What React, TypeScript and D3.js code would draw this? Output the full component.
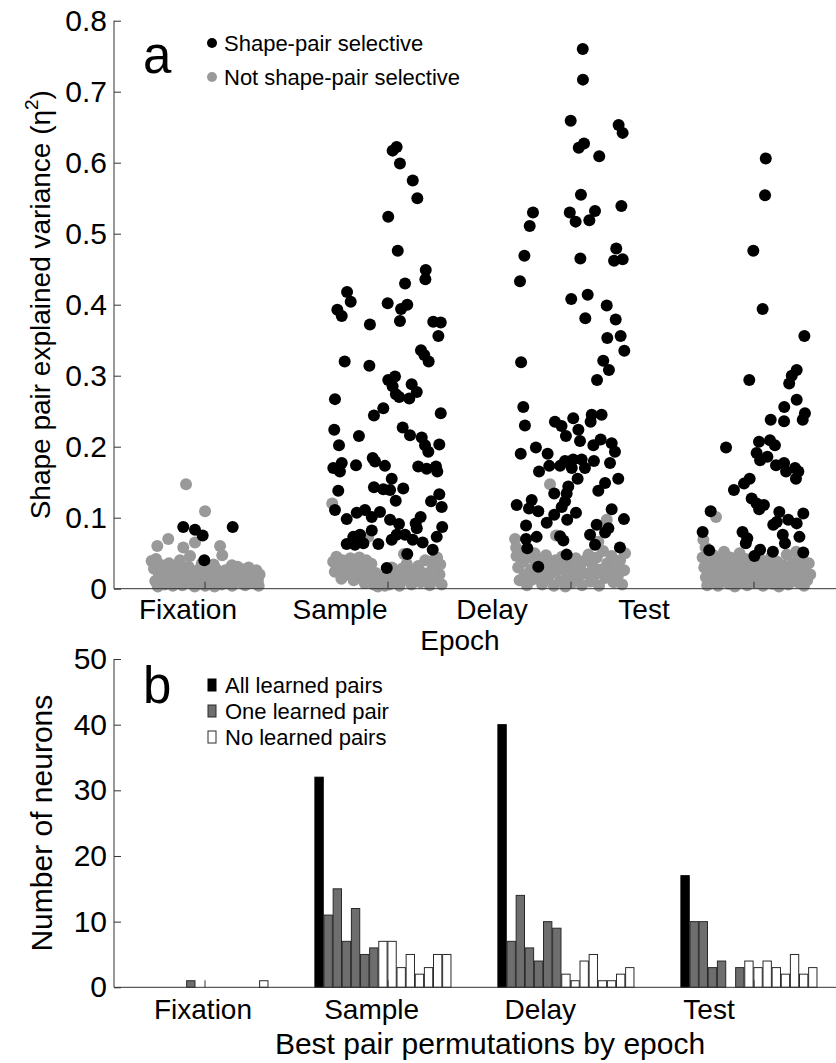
import React, { useRef, useEffect } from 'react';
import * as d3 from 'd3';

const epochs = ['Fixation', 'Sample', 'Delay', 'Test'];
const etaTicks = [0, 0.1, 0.2, 0.3, 0.4, 0.5, 0.6, 0.7, 0.8];
const countTicks = [0, 10, 20, 30, 40, 50];

// panel a: [x position on epoch axis, eta^2]
const fixSel = [[0.884, 0.087], [0.948, 0.083], [0.99, 0.075], [0.999, 0.04], [1.154, 0.087]];
const fixNon = [
  [0.899, 0.147], [1.003, 0.109], [0.742, 0.06], [0.802, 0.07], [0.884, 0.058], [0.948, 0.065], [1.085, 0.06],
  [1.097, 0.047], [0.921, 0.046], [0.711, 0.039], [0.866, 0.04], [0.724, 0.028], [0.731, 0.011], [0.745, 0.003],
  [0.752, 0.02], [0.768, 0.033], [0.774, 0.015], [0.783, 0.006], [0.795, 0.026], [0.806, 0.036], [0.812, 0.013],
  [0.827, 0.004], [0.833, 0.021], [0.841, 0.03], [0.855, 0.009], [0.861, 0.018], [0.873, 0.027], [0.879, 0.005],
  [0.892, 0.014], [0.904, 0.024], [0.913, 0.031], [0.925, 0.008], [0.931, 0.019], [0.946, 0.003], [0.952, 0.012],
  [0.963, 0.026], [0.975, 0.007], [0.984, 0.016], [0.996, 0.022], [1.004, 0.004], [1.012, 0.013], [1.026, 0.025],
  [1.033, 0.009], [1.041, 0.018], [1.055, 0.003], [1.062, 0.028], [1.071, 0.011], [1.083, 0.02], [1.094, 0.006],
  [1.102, 0.015], [1.114, 0.026], [1.121, 0.008], [1.133, 0.019], [1.142, 0.029], [1.151, 0.004], [1.163, 0.013],
  [1.172, 0.023], [1.181, 0.031], [1.194, 0.009], [1.203, 0.017], [1.211, 0.027], [1.222, 0.005], [1.234, 0.014],
  [1.241, 0.03], [1.253, 0.021], [1.262, 0.008], [1.271, 0.018], [1.283, 0.026], [1.292, 0.012], [1.301, 0.02],
  [1.296, 0.004], [1.15, 0.033], [1.05, 0.034], [0.985, 0.035], [0.735, 0.042],
];

const sampleSel = [
  [2.028, 0.617], [2.05, 0.622], [2.068, 0.599], [2.138, 0.575], [2.163, 0.55], [2.004, 0.524], [2.056, 0.476],
  [2.209, 0.449], [2.207, 0.436], [2.096, 0.43], [1.779, 0.418], [1.799, 0.404], [2.001, 0.402], [2.108, 0.4],
  [2.074, 0.394], [1.726, 0.393], [1.75, 0.384], [1.904, 0.372], [2.068, 0.377], [2.25, 0.376], [2.291, 0.375],
  [2.278, 0.356], [2.183, 0.336], [2.201, 0.329], [2.225, 0.32], [1.766, 0.32], [1.901, 0.314], [2.004, 0.294],
  [2.041, 0.299], [2.028, 0.285], [2.046, 0.274], [2.132, 0.288], [2.16, 0.277], [2.119, 0.268], [2.064, 0.27],
  [1.713, 0.267], [1.977, 0.254], [1.926, 0.244], [2.291, 0.247], [1.709, 0.224], [1.844, 0.215], [2.083, 0.227],
  [2.123, 0.216], [2.187, 0.213], [2.205, 0.202], [2.223, 0.193], [2.283, 0.203], [1.735, 0.202], [1.704, 0.17],
  [1.75, 0.177], [1.74, 0.165], [1.828, 0.174], [1.919, 0.184], [1.932, 0.179], [1.986, 0.173], [2.168, 0.172],
  [2.214, 0.169], [2.265, 0.172], [2.272, 0.165], [2.023, 0.155], [1.731, 0.138], [1.926, 0.143], [1.977, 0.14],
  [2.014, 0.139], [2.086, 0.141], [2.045, 0.124], [2.283, 0.133], [2.238, 0.123], [2.296, 0.115], [1.713, 0.111],
  [1.777, 0.098], [1.832, 0.107], [1.877, 0.111], [1.914, 0.101], [1.959, 0.108], [2.014, 0.097], [2.063, 0.091],
  [2.154, 0.092], [2.181, 0.101], [2.16, 0.085], [2.299, 0.087], [1.914, 0.082], [1.813, 0.073], [1.85, 0.076],
  [1.777, 0.063], [1.822, 0.062], [1.868, 0.064], [1.95, 0.063], [2.023, 0.069], [2.05, 0.076], [2.096, 0.076],
  [2.138, 0.069], [2.192, 0.065], [2.269, 0.073], [2.247, 0.055], [2.108, 0.049], [1.996, 0.029],
];
const sampleNon = [
  [1.698, 0.12], [2.09, 0.049], [1.895, 0.073], [2.252, 0.04], [1.703, 0.038], [1.712, 0.024], [1.721, 0.045],
  [1.735, 0.031], [1.748, 0.014], [1.754, 0.04], [1.766, 0.027], [1.779, 0.036], [1.788, 0.02], [1.797, 0.043],
  [1.808, 0.03], [1.815, 0.012], [1.826, 0.038], [1.838, 0.025], [1.846, 0.044], [1.857, 0.018], [1.863, 0.033],
  [1.875, 0.008], [1.884, 0.04], [1.893, 0.026], [1.905, 0.014], [1.912, 0.035], [1.924, 0.006], [1.936, 0.022],
  [1.947, 0.003], [1.958, 0.016], [1.972, 0.01], [1.985, 0.004], [1.996, 0.017], [2.011, 0.006], [2.024, 0.03],
  [2.038, 0.012], [2.052, 0.021], [2.066, 0.004], [2.079, 0.028], [2.093, 0.013], [2.105, 0.035], [2.118, 0.02],
  [2.131, 0.006], [2.143, 0.026], [2.156, 0.014], [2.168, 0.032], [2.181, 0.009], [2.194, 0.022], [2.206, 0.04],
  [2.219, 0.016], [2.231, 0.005], [2.245, 0.028], [2.258, 0.012], [2.271, 0.044], [2.284, 0.02], [2.296, 0.006],
  [2.288, 0.034],
];

const delaySel = [
  [3.067, 0.76], [3.068, 0.717], [3.001, 0.659], [3.263, 0.653], [3.285, 0.642], [3.074, 0.627], [3.045, 0.621],
  [3.157, 0.609], [3.057, 0.555], [3.278, 0.539], [2.795, 0.53], [2.777, 0.511], [2.996, 0.53], [3.134, 0.532],
  [3.028, 0.517], [3.103, 0.519], [2.748, 0.469], [2.724, 0.433], [3.054, 0.465], [3.25, 0.479], [3.238, 0.462],
  [3.285, 0.464], [3.004, 0.408], [3.094, 0.414], [3.198, 0.399], [3.081, 0.381], [3.247, 0.379], [3.201, 0.353],
  [3.274, 0.356], [3.294, 0.335], [3.179, 0.321], [3.21, 0.308], [3.145, 0.294], [2.73, 0.319], [2.742, 0.256],
  [2.751, 0.23], [2.728, 0.19], [2.811, 0.199], [2.875, 0.19], [2.915, 0.235], [2.951, 0.229], [3.015, 0.24],
  [3.043, 0.224], [2.975, 0.215], [3.052, 0.208], [3.116, 0.245], [3.11, 0.235], [3.17, 0.245], [3.125, 0.202],
  [3.165, 0.21], [3.225, 0.205], [3.243, 0.193], [3.216, 0.177], [3.128, 0.18], [2.828, 0.165], [2.884, 0.173],
  [2.943, 0.173], [2.97, 0.18], [3.015, 0.182], [3.061, 0.182], [3.007, 0.17], [3.079, 0.17], [3.039, 0.155],
  [3.261, 0.155], [3.189, 0.149], [3.152, 0.138], [2.988, 0.144], [2.979, 0.134], [2.911, 0.134], [2.97, 0.123],
  [2.706, 0.118], [2.788, 0.125], [2.773, 0.113], [2.824, 0.109], [2.952, 0.115], [3.03, 0.107], [2.911, 0.104],
  [2.87, 0.093], [2.982, 0.097], [3.225, 0.112], [3.292, 0.098], [3.143, 0.09], [3.207, 0.085], [3.189, 0.079],
  [2.757, 0.089], [3.107, 0.076], [2.815, 0.073], [2.757, 0.07], [2.943, 0.074], [2.961, 0.068], [2.764, 0.057],
  [3.134, 0.062], [3.27, 0.058], [2.979, 0.048], [2.824, 0.031],
];
const delayNon = [
  [2.888, 0.147], [3.198, 0.097], [3.152, 0.066], [2.697, 0.07], [2.921, 0.075], [2.703, 0.058], [2.705, 0.046],
  [2.714, 0.03], [2.722, 0.012], [2.733, 0.052], [2.741, 0.038], [2.75, 0.02], [2.762, 0.005], [2.771, 0.044],
  [2.783, 0.027], [2.792, 0.013], [2.804, 0.05], [2.812, 0.036], [2.825, 0.018], [2.836, 0.041], [2.845, 0.006],
  [2.858, 0.029], [2.866, 0.047], [2.877, 0.015], [2.889, 0.035], [2.897, 0.022], [2.909, 0.004], [2.918, 0.04],
  [2.93, 0.026], [2.942, 0.011], [2.953, 0.045], [2.961, 0.031], [2.972, 0.003], [2.984, 0.018], [2.995, 0.037],
  [3.006, 0.008], [3.018, 0.025], [3.029, 0.043], [3.04, 0.014], [3.052, 0.03], [3.063, 0.005], [3.075, 0.039],
  [3.086, 0.021], [3.098, 0.048], [3.109, 0.01], [3.121, 0.033], [3.132, 0.019], [3.144, 0.044], [3.156, 0.004],
  [3.167, 0.027], [3.178, 0.053], [3.19, 0.015], [3.201, 0.036], [3.213, 0.024], [3.224, 0.046], [3.236, 0.009],
  [3.248, 0.031], [3.259, 0.018], [3.271, 0.04], [3.282, 0.006], [3.293, 0.026], [3.298, 0.05],
];

const testSel = [
  [4.067, 0.606], [4.063, 0.554], [3.999, 0.476], [4.05, 0.394], [4.278, 0.356], [4.236, 0.308], [4.209, 0.3],
  [3.977, 0.294], [4.195, 0.289], [4.236, 0.266], [4.168, 0.256], [4.281, 0.247], [4.269, 0.238], [4.094, 0.238],
  [4.167, 0.236], [3.85, 0.199], [4.03, 0.207], [4.09, 0.209], [4.117, 0.202], [4.017, 0.191], [4.036, 0.181],
  [4.076, 0.186], [4.123, 0.174], [4.167, 0.177], [4.178, 0.165], [4.227, 0.17], [4.232, 0.155], [4.245, 0.165],
  [3.979, 0.155], [3.948, 0.148], [3.893, 0.139], [3.99, 0.127], [4.017, 0.12], [4.057, 0.118], [4.031, 0.112],
  [4.108, 0.09], [4.141, 0.108], [4.127, 0.094], [4.19, 0.097], [4.272, 0.106], [4.236, 0.092], [3.766, 0.109],
  [3.722, 0.08], [3.94, 0.08], [3.958, 0.064], [4.036, 0.055], [4.005, 0.046], [4.106, 0.052], [4.16, 0.076],
  [4.172, 0.064], [4.251, 0.073], [4.272, 0.051], [3.758, 0.054], [3.966, 0.071],
];
const testNon = [
  [3.795, 0.101], [3.726, 0.069], [3.738, 0.058], [3.722, 0.044], [3.731, 0.03], [3.74, 0.016], [3.747, 0.005],
  [3.756, 0.038], [3.764, 0.023], [3.772, 0.01], [3.781, 0.047], [3.789, 0.032], [3.797, 0.018], [3.806, 0.004],
  [3.814, 0.04], [3.822, 0.026], [3.831, 0.012], [3.839, 0.052], [3.848, 0.035], [3.856, 0.02], [3.865, 0.007],
  [3.873, 0.044], [3.882, 0.028], [3.89, 0.014], [3.898, 0.003], [3.907, 0.037], [3.915, 0.022], [3.924, 0.05],
  [3.932, 0.009], [3.941, 0.031], [3.949, 0.017], [3.958, 0.042], [3.966, 0.005], [3.975, 0.026], [3.983, 0.013],
  [3.992, 0.036], [4.001, 0.021], [4.01, 0.046], [4.018, 0.008], [4.027, 0.03], [4.035, 0.016], [4.044, 0.04],
  [4.052, 0.004], [4.061, 0.025], [4.07, 0.012], [4.078, 0.034], [4.087, 0.02], [4.095, 0.044], [4.104, 0.007],
  [4.113, 0.029], [4.121, 0.015], [4.13, 0.038], [4.139, 0.003], [4.147, 0.023], [4.156, 0.01], [4.164, 0.033],
  [4.173, 0.019], [4.182, 0.048], [4.19, 0.006], [4.199, 0.027], [4.207, 0.014], [4.216, 0.037], [4.225, 0.022],
  [4.233, 0.052], [4.242, 0.009], [4.25, 0.031], [4.259, 0.017], [4.268, 0.043], [4.276, 0.004], [4.285, 0.025],
  [4.293, 0.012], [4.302, 0.036], [4.31, 0.02],
];

// panel b: neuron counts per best-pair permutation
const allLearned = [0, 32, 40, 17];
const oneLearned = [
  [0, 0, 0, 0, 0, 1],
  [11, 15, 7, 12, 5, 6],
  [7, 14, 6, 4, 10, 9],
  [10, 10, 3, 4, 0, 3],
];
const noLearned = [
  [0, 0, 0, 0, 0, 0, 0, 1],
  [7, 7, 3, 5, 2, 3, 5, 5],
  [2, 1, 4, 5, 1, 1, 2, 3],
  [4, 3, 4, 3, 2, 5, 2, 3],
];

const FONT = "'Liberation Sans', Arial, Helvetica, sans-serif";
const GRAY_DOT = '#999999';
const GRAY_BAR = '#6e6e6e';
const AXIS = '#333';

const App = () => {
  const ref = useRef<SVGSVGElement>(null);

  useEffect(() => {
    const svg = d3.select(ref.current);
    svg.selectAll('*').remove();
    svg.attr('font-family', FONT);

    const x = d3.scaleLinear().domain([0.5, 4.5]).range([113, 845]);
    // the exported figure places the category labels left of their ticks
    const labelXA = d3.scaleLinear().domain([1, 4]).range([188, 644]);
    const labelXB = d3.scaleLinear().domain([1, 4]).range([203, 709]);
    const yA = d3.scaleLinear().domain([0, 0.8]).range([588.7, 20.7]);
    const yB = d3.scaleLinear().domain([0, 50]).range([987.3, 659]);
    const axisX = 114;

    const styleAxis = (g) => {
      g.select('.domain').remove();
      g.selectAll('line').attr('stroke', AXIS);
      g.selectAll('text').attr('fill', '#000').attr('font-family', FONT);
    };

    const xTicks = (g, y0, labelX, baseline) => {
      g.append('g')
        .attr('transform', `translate(0,${y0})`)
        .call(d3.axisBottom(x).tickValues([1, 2, 3, 4]).tickFormat(() => '').tickSizeInner(-7).tickSizeOuter(0))
        .call(styleAxis);
      g.append('g')
        .selectAll('text')
        .data(epochs)
        .join('text')
        .attr('x', (d, i) => labelX(i + 1))
        .attr('y', baseline)
        .attr('text-anchor', 'middle')
        .attr('font-size', 28)
        .text((d) => d);
    };

    // ---------- panel a ----------
    const gA = svg.append('g');
    const nonAll = [...fixNon, ...sampleNon, ...delayNon, ...testNon];
    const selAll = [...fixSel, ...sampleSel, ...delaySel, ...testSel];

    gA.append('g')
      .selectAll('circle')
      .data(nonAll)
      .join('circle')
      .attr('cx', (d) => x(d[0]))
      .attr('cy', (d) => yA(d[1]))
      .attr('r', 6)
      .attr('fill', GRAY_DOT);

    gA.append('g')
      .selectAll('circle')
      .data(selAll)
      .join('circle')
      .attr('cx', (d) => x(d[0]))
      .attr('cy', (d) => yA(d[1]))
      .attr('r', 6)
      .attr('fill', '#000');

    gA.append('g')
      .attr('transform', `translate(${axisX},0)`)
      .call(
        d3.axisLeft(yA)
          .tickValues(etaTicks)
          .tickFormat((d) => (d === 0 ? '0' : d3.format('.1f')(d)))
          .tickSizeInner(-7)
          .tickSizeOuter(0)
          .tickPadding(7)
      )
      .call(styleAxis)
      .attr('font-size', 30);

    xTicks(gA, yA(0), labelXA, 619);

    gA.append('line')
      .attr('x1', axisX).attr('x2', axisX)
      .attr('y1', yA(0.8)).attr('y2', yA(0))
      .attr('stroke', AXIS);
    gA.append('line')
      .attr('x1', axisX).attr('x2', 845)
      .attr('y1', yA(0)).attr('y2', yA(0))
      .attr('stroke', AXIS);

    gA.append('text')
      .attr('x', 460).attr('y', 650)
      .attr('text-anchor', 'middle')
      .attr('font-size', 28)
      .text('Epoch');

    const yTitleA = gA.append('text')
      .attr('transform', `translate(50,${(yA(0) + yA(0.8)) / 2}) rotate(-90)`)
      .attr('text-anchor', 'middle')
      .attr('font-size', 28);
    yTitleA.append('tspan').text('Shape pair explained variance (η');
    yTitleA.append('tspan').attr('font-size', 19).attr('dy', -12).text('2');
    yTitleA.append('tspan').attr('dy', 12).text(')');

    gA.append('text')
      .attr('x', 143).attr('y', 73)
      .attr('font-size', 51)
      .text('a');

    const legA = [
      { label: 'Shape-pair selective', color: '#000' },
      { label: 'Not shape-pair selective', color: GRAY_DOT },
    ];
    const lg = gA.append('g')
      .selectAll('g')
      .data(legA)
      .join('g')
      .attr('transform', (d, i) => `translate(212,${43 + i * 34})`);
    lg.append('circle').attr('r', 5).attr('fill', (d) => d.color);
    lg.append('text')
      .attr('x', 12).attr('y', 8)
      .attr('font-size', 22)
      .text((d) => d.label);

    // ---------- panel b ----------
    const gB = svg.append('g');
    const slots = d3.range(16);
    const inner = d3.scaleBand().domain(slots).range([-72.6, 72.6]).paddingInner(0.085);

    const bars = [];
    epochs.forEach((ep, i) => {
      bars.push({ epoch: i + 1, slot: 0, value: allLearned[i], kind: 'all' });
      oneLearned[i].forEach((v, j) => bars.push({ epoch: i + 1, slot: 1 + j, value: v, kind: 'one' }));
      noLearned[i].forEach((v, j) => bars.push({ epoch: i + 1, slot: 7 + j, value: v, kind: 'none' }));
    });
    const fillOf = { all: '#000', one: GRAY_BAR, none: '#fff' };
    const strokeOf = { all: '#000', one: '#2a2a2a', none: '#2a2a2a' };

    gB.append('g')
      .selectAll('rect')
      .data(bars.filter((d) => d.value > 0))
      .join('rect')
      .attr('x', (d) => x(d.epoch) + inner(d.slot))
      .attr('y', (d) => yB(d.value))
      .attr('width', inner.bandwidth())
      .attr('height', (d) => yB(0) - yB(d.value))
      .attr('fill', (d) => fillOf[d.kind])
      .attr('stroke', (d) => strokeOf[d.kind])
      .attr('stroke-width', 1);

    gB.append('g')
      .attr('transform', `translate(${axisX},0)`)
      .call(
        d3.axisLeft(yB)
          .tickValues(countTicks)
          .tickSizeInner(-7)
          .tickSizeOuter(0)
          .tickPadding(7)
      )
      .call(styleAxis)
      .attr('font-size', 30);

    xTicks(gB, yB(0), labelXB, 1019);

    gB.append('line')
      .attr('x1', axisX).attr('x2', axisX)
      .attr('y1', yB(50)).attr('y2', yB(0))
      .attr('stroke', AXIS);
    gB.append('line')
      .attr('x1', axisX).attr('x2', 845)
      .attr('y1', yB(0)).attr('y2', yB(0))
      .attr('stroke', AXIS);

    gB.append('text')
      .attr('x', 490).attr('y', 1054)
      .attr('text-anchor', 'middle')
      .attr('font-size', 30)
      .text('Best pair permutations by epoch');

    gB.append('text')
      .attr('transform', `translate(52,${(yB(0) + yB(50)) / 2}) rotate(-90)`)
      .attr('text-anchor', 'middle')
      .attr('font-size', 30)
      .text('Number of neurons');

    gB.append('text')
      .attr('x', 143).attr('y', 703)
      .attr('font-size', 51)
      .text('b');

    const legB = [
      { label: 'All learned pairs', kind: 'all' },
      { label: 'One learned pair', kind: 'one' },
      { label: 'No learned pairs', kind: 'none' },
    ];
    const lb = gB.append('g')
      .selectAll('g')
      .data(legB)
      .join('g')
      .attr('transform', (d, i) => `translate(208,${685 + i * 26})`);
    lb.append('rect')
      .attr('x', 0).attr('y', -6)
      .attr('width', 8).attr('height', 12)
      .attr('fill', (d) => fillOf[d.kind])
      .attr('stroke', (d) => strokeOf[d.kind]);
    lb.append('text')
      .attr('x', 17).attr('y', 8)
      .attr('font-size', 22)
      .text((d) => d.label);
  }, []);

  return (
    <svg
      ref={ref}
      width={836}
      height={1063}
      style={{ position: 'absolute', left: 0, top: 0, background: '#fff' }}
    />
  );
};

export default App;
